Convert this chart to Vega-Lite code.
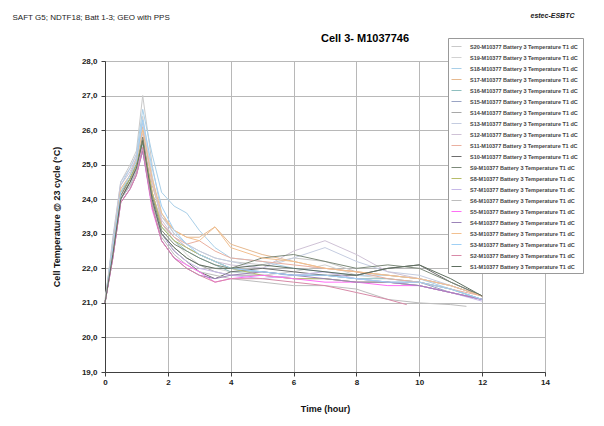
{
  "$schema": "https://vega.github.io/schema/vega-lite/v6.json",
  "width": 440,
  "height": 311,
  "autosize": {"type": "none"},
  "padding": {"left": 105, "top": 61, "right": 59, "bottom": 54},
  "background": "white",
  "title": {"text": "Cell 3- M1037746", "fontSize": 11, "fontWeight": "bold", "font": "Liberation Sans", "color": "#000", "anchor": "middle", "dx": 40, "dy": 33, "offset": 0},
  "config": {
    "font": "Liberation Sans",
    "view": {"stroke": "#707070", "strokeWidth": 1},
    "axis": {"gridColor": "#b8b8b8", "gridWidth": 1, "domainColor": "#404040", "tickColor": "#404040", "labelFont": "Liberation Sans", "labelFontWeight": "bold", "labelFontSize": 8, "labelColor": "#222", "titleFont": "Liberation Sans", "titleFontWeight": "bold", "titleFontSize": 9, "titleColor": "#111"}
  },
  "data": {"values": [
{"s":"S20","t":0,"v":21.0},{"s":"S20","t":0.25,"v":22.9},{"s":"S20","t":0.5,"v":24.5},{"s":"S20","t":0.8,"v":25.0},{"s":"S20","t":1.0,"v":25.4},{"s":"S20","t":1.2,"v":27.0},{"s":"S20","t":1.5,"v":25.0},{"s":"S20","t":1.8,"v":23.6},{"s":"S20","t":2.2,"v":23.0},{"s":"S20","t":2.6,"v":22.7},{"s":"S20","t":3,"v":22.5},{"s":"S20","t":3.5,"v":22.3},{"s":"S20","t":4,"v":22.2},{"s":"S20","t":5,"v":22.1},{"s":"S20","t":6,"v":22.3},{"s":"S20","t":7,"v":22.2},{"s":"S20","t":8,"v":21.9},{"s":"S20","t":9,"v":21.8},{"s":"S20","t":10,"v":21.7},{"s":"S20","t":11,"v":21.5},{"s":"S20","t":12,"v":21.2},
{"s":"S19","t":0,"v":21.1},{"s":"S19","t":0.25,"v":22.7},{"s":"S19","t":0.5,"v":24.3},{"s":"S19","t":0.8,"v":24.7},{"s":"S19","t":1.0,"v":25.1},{"s":"S19","t":1.2,"v":26.4},{"s":"S19","t":1.5,"v":24.7},{"s":"S19","t":1.8,"v":23.3},{"s":"S19","t":2.2,"v":22.8},{"s":"S19","t":2.6,"v":22.4},{"s":"S19","t":3,"v":22.1},{"s":"S19","t":3.5,"v":22.0},{"s":"S19","t":4,"v":21.9},{"s":"S19","t":5,"v":21.8},{"s":"S19","t":6,"v":21.9},{"s":"S19","t":7,"v":22.1},{"s":"S19","t":8,"v":21.8},{"s":"S19","t":9,"v":21.7},{"s":"S19","t":10,"v":21.6},{"s":"S19","t":11,"v":21.4},{"s":"S19","t":12,"v":21.1},
{"s":"S18","t":0,"v":21.0},{"s":"S18","t":0.25,"v":22.8},{"s":"S18","t":0.5,"v":24.4},{"s":"S18","t":0.8,"v":24.9},{"s":"S18","t":1.0,"v":25.3},{"s":"S18","t":1.2,"v":26.6},{"s":"S18","t":1.5,"v":25.3},{"s":"S18","t":1.8,"v":24.2},{"s":"S18","t":2.2,"v":23.8},{"s":"S18","t":2.6,"v":23.6},{"s":"S18","t":3,"v":23.1},{"s":"S18","t":3.5,"v":22.6},{"s":"S18","t":4,"v":22.3},{"s":"S18","t":5,"v":22.2},{"s":"S18","t":6,"v":22.0},{"s":"S18","t":7,"v":21.9},{"s":"S18","t":8,"v":21.8},{"s":"S18","t":9,"v":21.8},{"s":"S18","t":10,"v":21.7},{"s":"S18","t":11,"v":21.4},{"s":"S18","t":12,"v":21.1},
{"s":"S17","t":0,"v":21.0},{"s":"S17","t":0.25,"v":22.6},{"s":"S17","t":0.5,"v":24.2},{"s":"S17","t":0.8,"v":24.7},{"s":"S17","t":1.0,"v":25.2},{"s":"S17","t":1.2,"v":26.1},{"s":"S17","t":1.5,"v":24.4},{"s":"S17","t":1.8,"v":23.5},{"s":"S17","t":2.2,"v":23.1},{"s":"S17","t":2.6,"v":22.9},{"s":"S17","t":3,"v":22.9},{"s":"S17","t":3.5,"v":23.2},{"s":"S17","t":4,"v":22.7},{"s":"S17","t":5,"v":22.4},{"s":"S17","t":6,"v":22.2},{"s":"S17","t":7,"v":22.0},{"s":"S17","t":8,"v":21.9},{"s":"S17","t":9,"v":21.8},{"s":"S17","t":10,"v":21.7},{"s":"S17","t":11,"v":21.5},{"s":"S17","t":12,"v":21.2},
{"s":"S16","t":0,"v":21.0},{"s":"S16","t":0.25,"v":22.5},{"s":"S16","t":0.5,"v":24.1},{"s":"S16","t":0.8,"v":24.6},{"s":"S16","t":1.0,"v":25.0},{"s":"S16","t":1.2,"v":25.6},{"s":"S16","t":1.5,"v":24.1},{"s":"S16","t":1.8,"v":23.2},{"s":"S16","t":2.2,"v":22.8},{"s":"S16","t":2.6,"v":22.5},{"s":"S16","t":3,"v":22.3},{"s":"S16","t":3.5,"v":22.1},{"s":"S16","t":4,"v":21.9},{"s":"S16","t":5,"v":21.9},{"s":"S16","t":6,"v":21.8},{"s":"S16","t":7,"v":21.8},{"s":"S16","t":8,"v":21.7},{"s":"S16","t":9,"v":21.7},{"s":"S16","t":10,"v":21.6},{"s":"S16","t":11,"v":21.4},{"s":"S16","t":12,"v":21.1},
{"s":"S15","t":0,"v":21.0},{"s":"S15","t":0.25,"v":22.6},{"s":"S15","t":0.5,"v":24.2},{"s":"S15","t":0.8,"v":24.6},{"s":"S15","t":1.0,"v":25.0},{"s":"S15","t":1.2,"v":25.7},{"s":"S15","t":1.5,"v":24.2},{"s":"S15","t":1.8,"v":23.3},{"s":"S15","t":2.2,"v":22.9},{"s":"S15","t":2.6,"v":22.6},{"s":"S15","t":3,"v":22.4},{"s":"S15","t":3.5,"v":22.2},{"s":"S15","t":4,"v":22.0},{"s":"S15","t":5,"v":21.9},{"s":"S15","t":6,"v":21.8},{"s":"S15","t":7,"v":21.8},{"s":"S15","t":8,"v":21.7},{"s":"S15","t":9,"v":21.6},{"s":"S15","t":10,"v":21.6},{"s":"S15","t":11,"v":21.3},{"s":"S15","t":12,"v":21.1},
{"s":"S14","t":0,"v":21.0},{"s":"S14","t":0.25,"v":22.4},{"s":"S14","t":0.5,"v":24.0},{"s":"S14","t":0.8,"v":24.4},{"s":"S14","t":1.0,"v":24.8},{"s":"S14","t":1.2,"v":25.5},{"s":"S14","t":1.5,"v":23.9},{"s":"S14","t":1.8,"v":23.0},{"s":"S14","t":2.2,"v":22.6},{"s":"S14","t":2.6,"v":22.3},{"s":"S14","t":3,"v":22.1},{"s":"S14","t":3.5,"v":21.9},{"s":"S14","t":4,"v":21.8},{"s":"S14","t":5,"v":21.8},{"s":"S14","t":6,"v":21.7},{"s":"S14","t":7,"v":21.7},{"s":"S14","t":8,"v":21.6},{"s":"S14","t":9,"v":21.6},{"s":"S14","t":10,"v":21.5},{"s":"S14","t":11,"v":21.3},{"s":"S14","t":12,"v":21.1},
{"s":"S13","t":0,"v":21.0},{"s":"S13","t":0.25,"v":22.8},{"s":"S13","t":0.5,"v":24.5},{"s":"S13","t":0.8,"v":24.9},{"s":"S13","t":1.0,"v":25.3},{"s":"S13","t":1.2,"v":26.2},{"s":"S13","t":1.5,"v":24.6},{"s":"S13","t":1.8,"v":23.5},{"s":"S13","t":2.2,"v":23.0},{"s":"S13","t":2.6,"v":22.7},{"s":"S13","t":3,"v":22.5},{"s":"S13","t":3.5,"v":22.3},{"s":"S13","t":4,"v":22.2},{"s":"S13","t":5,"v":22.0},{"s":"S13","t":6,"v":22.3},{"s":"S13","t":7,"v":22.6},{"s":"S13","t":8,"v":22.2},{"s":"S13","t":9,"v":21.9},{"s":"S13","t":10,"v":21.8},{"s":"S13","t":11,"v":21.5},{"s":"S13","t":12,"v":21.2},
{"s":"S12","t":0,"v":21.0},{"s":"S12","t":0.25,"v":22.7},{"s":"S12","t":0.5,"v":24.4},{"s":"S12","t":0.8,"v":24.8},{"s":"S12","t":1.0,"v":25.2},{"s":"S12","t":1.2,"v":25.9},{"s":"S12","t":1.5,"v":24.5},{"s":"S12","t":1.8,"v":23.4},{"s":"S12","t":2.2,"v":22.9},{"s":"S12","t":2.6,"v":22.6},{"s":"S12","t":3,"v":22.4},{"s":"S12","t":3.5,"v":22.2},{"s":"S12","t":4,"v":22.1},{"s":"S12","t":5,"v":22.0},{"s":"S12","t":6,"v":22.5},{"s":"S12","t":7,"v":22.8},{"s":"S12","t":8,"v":22.4},{"s":"S12","t":9,"v":21.9},{"s":"S12","t":10,"v":21.7},{"s":"S12","t":11,"v":21.5},{"s":"S12","t":12,"v":21.2},
{"s":"S11","t":0,"v":21.0},{"s":"S11","t":0.25,"v":22.5},{"s":"S11","t":0.5,"v":24.1},{"s":"S11","t":0.8,"v":24.5},{"s":"S11","t":1.0,"v":24.9},{"s":"S11","t":1.2,"v":25.8},{"s":"S11","t":1.5,"v":24.2},{"s":"S11","t":1.8,"v":23.3},{"s":"S11","t":2.2,"v":22.9},{"s":"S11","t":2.6,"v":22.7},{"s":"S11","t":3,"v":22.8},{"s":"S11","t":3.5,"v":22.5},{"s":"S11","t":4,"v":22.3},{"s":"S11","t":5,"v":22.2},{"s":"S11","t":6,"v":22.1},{"s":"S11","t":7,"v":22.0},{"s":"S11","t":8,"v":21.9},{"s":"S11","t":9,"v":21.7},{"s":"S11","t":10,"v":21.6},{"s":"S11","t":11,"v":21.4},{"s":"S11","t":12,"v":21.2},
{"s":"S10","t":0,"v":21.0},{"s":"S10","t":0.25,"v":22.4},{"s":"S10","t":0.5,"v":24.0},{"s":"S10","t":0.8,"v":24.5},{"s":"S10","t":1.0,"v":24.9},{"s":"S10","t":1.2,"v":25.7},{"s":"S10","t":1.5,"v":24.0},{"s":"S10","t":1.8,"v":23.0},{"s":"S10","t":2.2,"v":22.5},{"s":"S10","t":2.6,"v":22.2},{"s":"S10","t":3,"v":21.9},{"s":"S10","t":3.5,"v":21.7},{"s":"S10","t":4,"v":21.9},{"s":"S10","t":5,"v":22.0},{"s":"S10","t":6,"v":21.9},{"s":"S10","t":7,"v":21.8},{"s":"S10","t":8,"v":21.8},{"s":"S10","t":9,"v":22.0},{"s":"S10","t":10,"v":22.1},{"s":"S10","t":11,"v":21.6},{"s":"S10","t":12,"v":21.2},
{"s":"S9","t":0,"v":21.0},{"s":"S9","t":0.25,"v":22.5},{"s":"S9","t":0.5,"v":24.1},{"s":"S9","t":0.8,"v":24.6},{"s":"S9","t":1.0,"v":25.0},{"s":"S9","t":1.2,"v":25.8},{"s":"S9","t":1.5,"v":24.1},{"s":"S9","t":1.8,"v":23.1},{"s":"S9","t":2.2,"v":22.7},{"s":"S9","t":2.6,"v":22.5},{"s":"S9","t":3,"v":22.3},{"s":"S9","t":3.5,"v":22.1},{"s":"S9","t":4,"v":22.0},{"s":"S9","t":5,"v":22.3},{"s":"S9","t":6,"v":22.4},{"s":"S9","t":7,"v":22.2},{"s":"S9","t":8,"v":22.0},{"s":"S9","t":9,"v":22.1},{"s":"S9","t":10,"v":22.0},{"s":"S9","t":11,"v":21.6},{"s":"S9","t":12,"v":21.2},
{"s":"S8","t":0,"v":21.0},{"s":"S8","t":0.25,"v":22.5},{"s":"S8","t":0.5,"v":24.2},{"s":"S8","t":0.8,"v":24.6},{"s":"S8","t":1.0,"v":25.0},{"s":"S8","t":1.2,"v":25.7},{"s":"S8","t":1.5,"v":24.2},{"s":"S8","t":1.8,"v":23.2},{"s":"S8","t":2.2,"v":22.8},{"s":"S8","t":2.6,"v":22.6},{"s":"S8","t":3,"v":22.4},{"s":"S8","t":3.5,"v":22.2},{"s":"S8","t":4,"v":22.0},{"s":"S8","t":5,"v":21.8},{"s":"S8","t":6,"v":21.7},{"s":"S8","t":7,"v":21.7},{"s":"S8","t":8,"v":21.6},{"s":"S8","t":9,"v":21.6},{"s":"S8","t":10,"v":21.5},{"s":"S8","t":11,"v":21.3},{"s":"S8","t":12,"v":21.1},
{"s":"S7","t":0,"v":21.0},{"s":"S7","t":0.25,"v":22.4},{"s":"S7","t":0.5,"v":24.0},{"s":"S7","t":0.8,"v":24.4},{"s":"S7","t":1.0,"v":24.9},{"s":"S7","t":1.2,"v":25.5},{"s":"S7","t":1.5,"v":24.0},{"s":"S7","t":1.8,"v":23.0},{"s":"S7","t":2.2,"v":22.5},{"s":"S7","t":2.6,"v":22.2},{"s":"S7","t":3,"v":22.0},{"s":"S7","t":3.5,"v":21.9},{"s":"S7","t":4,"v":21.8},{"s":"S7","t":5,"v":21.7},{"s":"S7","t":6,"v":21.8},{"s":"S7","t":7,"v":21.9},{"s":"S7","t":8,"v":21.7},{"s":"S7","t":9,"v":21.6},{"s":"S7","t":10,"v":21.5},{"s":"S7","t":11,"v":21.3},{"s":"S7","t":12,"v":21.05},
{"s":"S6","t":0,"v":21.0},{"s":"S6","t":0.25,"v":22.4},{"s":"S6","t":0.5,"v":24.0},{"s":"S6","t":0.8,"v":24.4},{"s":"S6","t":1.0,"v":24.8},{"s":"S6","t":1.2,"v":25.4},{"s":"S6","t":1.5,"v":23.8},{"s":"S6","t":1.8,"v":22.9},{"s":"S6","t":2.2,"v":22.4},{"s":"S6","t":2.6,"v":22.1},{"s":"S6","t":3,"v":21.9},{"s":"S6","t":3.5,"v":21.8},{"s":"S6","t":4,"v":21.7},{"s":"S6","t":5,"v":21.6},{"s":"S6","t":6,"v":21.5},{"s":"S6","t":7,"v":21.5},{"s":"S6","t":8,"v":21.4},{"s":"S6","t":9,"v":21.1},{"s":"S6","t":10,"v":21.0},{"s":"S6","t":11,"v":20.95},{"s":"S6","t":11.5,"v":20.9},
{"s":"S5","t":0,"v":21.0},{"s":"S5","t":0.25,"v":22.3},{"s":"S5","t":0.5,"v":23.9},{"s":"S5","t":0.8,"v":24.3},{"s":"S5","t":1.0,"v":24.7},{"s":"S5","t":1.2,"v":25.4},{"s":"S5","t":1.5,"v":23.7},{"s":"S5","t":1.8,"v":22.8},{"s":"S5","t":2.2,"v":22.3},{"s":"S5","t":2.6,"v":22.1},{"s":"S5","t":3,"v":21.9},{"s":"S5","t":3.5,"v":21.6},{"s":"S5","t":4,"v":21.7},{"s":"S5","t":5,"v":21.8},{"s":"S5","t":6,"v":21.7},{"s":"S5","t":7,"v":21.6},{"s":"S5","t":8,"v":21.6},{"s":"S5","t":9,"v":21.5},{"s":"S5","t":10,"v":21.5},{"s":"S5","t":11,"v":21.3},{"s":"S5","t":12,"v":21.1},
{"s":"S4","t":0,"v":21.0},{"s":"S4","t":0.25,"v":22.3},{"s":"S4","t":0.5,"v":23.9},{"s":"S4","t":0.8,"v":24.3},{"s":"S4","t":1.0,"v":24.7},{"s":"S4","t":1.2,"v":25.4},{"s":"S4","t":1.5,"v":23.8},{"s":"S4","t":1.8,"v":22.8},{"s":"S4","t":2.2,"v":22.3},{"s":"S4","t":2.6,"v":22.0},{"s":"S4","t":3,"v":21.8},{"s":"S4","t":3.5,"v":21.7},{"s":"S4","t":4,"v":21.8},{"s":"S4","t":5,"v":21.9},{"s":"S4","t":6,"v":21.8},{"s":"S4","t":7,"v":21.7},{"s":"S4","t":8,"v":21.6},{"s":"S4","t":9,"v":21.6},{"s":"S4","t":10,"v":21.5},{"s":"S4","t":11,"v":21.3},{"s":"S4","t":12,"v":21.1},
{"s":"S3","t":0,"v":21.0},{"s":"S3","t":0.25,"v":22.6},{"s":"S3","t":0.5,"v":24.3},{"s":"S3","t":0.8,"v":24.7},{"s":"S3","t":1.0,"v":25.1},{"s":"S3","t":1.2,"v":26.0},{"s":"S3","t":1.5,"v":24.6},{"s":"S3","t":1.8,"v":23.6},{"s":"S3","t":2.2,"v":23.1},{"s":"S3","t":2.6,"v":22.9},{"s":"S3","t":3,"v":22.8},{"s":"S3","t":3.5,"v":23.2},{"s":"S3","t":4,"v":22.6},{"s":"S3","t":5,"v":22.3},{"s":"S3","t":6,"v":22.2},{"s":"S3","t":7,"v":22.0},{"s":"S3","t":8,"v":21.9},{"s":"S3","t":9,"v":21.8},{"s":"S3","t":10,"v":21.7},{"s":"S3","t":11,"v":21.5},{"s":"S3","t":12,"v":21.2},
{"s":"S3b","t":0,"v":21.0},{"s":"S3b","t":0.25,"v":22.6},{"s":"S3b","t":0.5,"v":24.2},{"s":"S3b","t":0.8,"v":24.7},{"s":"S3b","t":1.0,"v":25.1},{"s":"S3b","t":1.2,"v":26.3},{"s":"S3b","t":1.5,"v":24.9},{"s":"S3b","t":1.8,"v":23.8},{"s":"S3b","t":2.2,"v":23.1},{"s":"S3b","t":2.6,"v":22.7},{"s":"S3b","t":3,"v":22.4},{"s":"S3b","t":3.5,"v":22.2},{"s":"S3b","t":4,"v":22.0},{"s":"S3b","t":5,"v":21.9},{"s":"S3b","t":6,"v":21.8},{"s":"S3b","t":7,"v":21.8},{"s":"S3b","t":8,"v":21.7},{"s":"S3b","t":9,"v":21.6},{"s":"S3b","t":10,"v":21.6},{"s":"S3b","t":11,"v":21.4},{"s":"S3b","t":12,"v":21.1},
{"s":"S2","t":0,"v":21.0},{"s":"S2","t":0.25,"v":22.3},{"s":"S2","t":0.5,"v":23.9},{"s":"S2","t":0.8,"v":24.3},{"s":"S2","t":1.0,"v":24.7},{"s":"S2","t":1.2,"v":25.5},{"s":"S2","t":1.5,"v":23.8},{"s":"S2","t":1.8,"v":22.8},{"s":"S2","t":2.2,"v":22.3},{"s":"S2","t":2.6,"v":22.0},{"s":"S2","t":3,"v":21.8},{"s":"S2","t":3.5,"v":21.6},{"s":"S2","t":4,"v":21.7},{"s":"S2","t":5,"v":21.7},{"s":"S2","t":6,"v":21.6},{"s":"S2","t":7,"v":21.5},{"s":"S2","t":8,"v":21.3},{"s":"S2","t":9,"v":21.1},{"s":"S2","t":9.6,"v":20.95},
{"s":"S1","t":0,"v":21.0},{"s":"S1","t":0.25,"v":22.4},{"s":"S1","t":0.5,"v":24.0},{"s":"S1","t":0.8,"v":24.5},{"s":"S1","t":1.0,"v":24.9},{"s":"S1","t":1.2,"v":25.7},{"s":"S1","t":1.5,"v":24.0},{"s":"S1","t":1.8,"v":23.0},{"s":"S1","t":2.2,"v":22.6},{"s":"S1","t":2.6,"v":22.3},{"s":"S1","t":3,"v":22.1},{"s":"S1","t":3.5,"v":22.0},{"s":"S1","t":4,"v":22.0},{"s":"S1","t":5,"v":22.1},{"s":"S1","t":6,"v":22.0},{"s":"S1","t":7,"v":21.9},{"s":"S1","t":8,"v":21.8},{"s":"S1","t":9,"v":22.0},{"s":"S1","t":10,"v":22.1},{"s":"S1","t":11,"v":21.7},{"s":"S1","t":12,"v":21.2}
  ]},
  "resolve": {"axis": {"x": "independent", "y": "independent"}},
  "layer": [
    {
      "mark": {"type": "line", "strokeWidth": 1},
      "encoding": {
        "x": {"field": "t", "type": "quantitative", "scale": {"domain": [0, 14], "nice": false},
              "axis": {"orient": "bottom", "values": [0, 2, 4, 6, 8, 10, 12, 14], "format": "d", "title": "Time (hour)", "tickSize": 4, "labelPadding": 2, "titlePadding": 18, "labelFlush": false}},
        "y": {"field": "v", "type": "quantitative", "scale": {"domain": [19, 28], "nice": false, "zero": false},
              "axis": {"orient": "left", "values": [19, 20, 21, 22, 23, 24, 25, 26, 27, 28], "labelExpr": "replace(format(datum.value, '.1f'), '.', ',')", "title": "Cell Temperature @ 23 cycle (°C)", "tickSize": 4, "labelPadding": 4, "titlePadding": 20}},
        "color": {"field": "s", "type": "nominal",
          "scale": {"domain": ["S20","S19","S18","S17","S16","S15","S14","S13","S12","S11","S10","S9","S8","S7","S6","S5","S4","S3","S3b","S2","S1"],
                    "range": ["#c9c9c9","#d2d2d2","#a9cfe8","#e6b98f","#8fbfbf","#9aa4c4","#a8a8a8","#c4cce0","#cfc2d6","#eab0a0","#6e6e6e","#7d8a7a","#b7bd6a","#c6b8e8","#bdbdbd","#ff6ef5","#9c84b8","#f2c090","#9fd0f5","#d88aa8","#5f6f60"]},
          "legend": {"orient": "none", "legendX": 343, "legendY": -23, "title": null, "symbolType": "stroke", "symbolSize": 100, "symbolStrokeWidth": 1, "rowPadding": 2, "labelFont": "Liberation Sans", "labelFontSize": 5.5, "labelFontWeight": "bold", "labelColor": "#444", "labelOffset": 8, "labelLimit": 200, "padding": 3, "strokeColor": "#999999", "fillColor": "white",
                     "labelExpr": "replace(datum.label, 'b', '') + '-M10377  Battery 3 Temperature T1 dC'"}}
      }
    },
    {
      "mark": {"type": "point", "opacity": 0},
      "encoding": {
        "x": {"field": "t", "type": "quantitative",
              "axis": {"orient": "top", "labels": false, "ticks": false, "domain": false, "grid": false, "title": "SAFT G5; NDTF18; Batt 1-3; GEO with PPS", "titleX": -93, "titleY": -44, "titleAngle": 0, "titleAlign": "left", "titleBaseline": "middle", "titleFontWeight": "normal", "titleFontSize": 8, "titleColor": "#222"}},
        "y": {"field": "v", "type": "quantitative",
              "axis": {"orient": "right", "labels": false, "ticks": false, "domain": false, "grid": false, "title": "estec-ESBTC", "titleX": -15, "titleY": -46, "titleAngle": 0, "titleAlign": "left", "titleBaseline": "middle", "titleFontWeight": "bold", "titleFontStyle": "italic", "titleFontSize": 7, "titleColor": "#222"}}
      }
    }
  ]
}
